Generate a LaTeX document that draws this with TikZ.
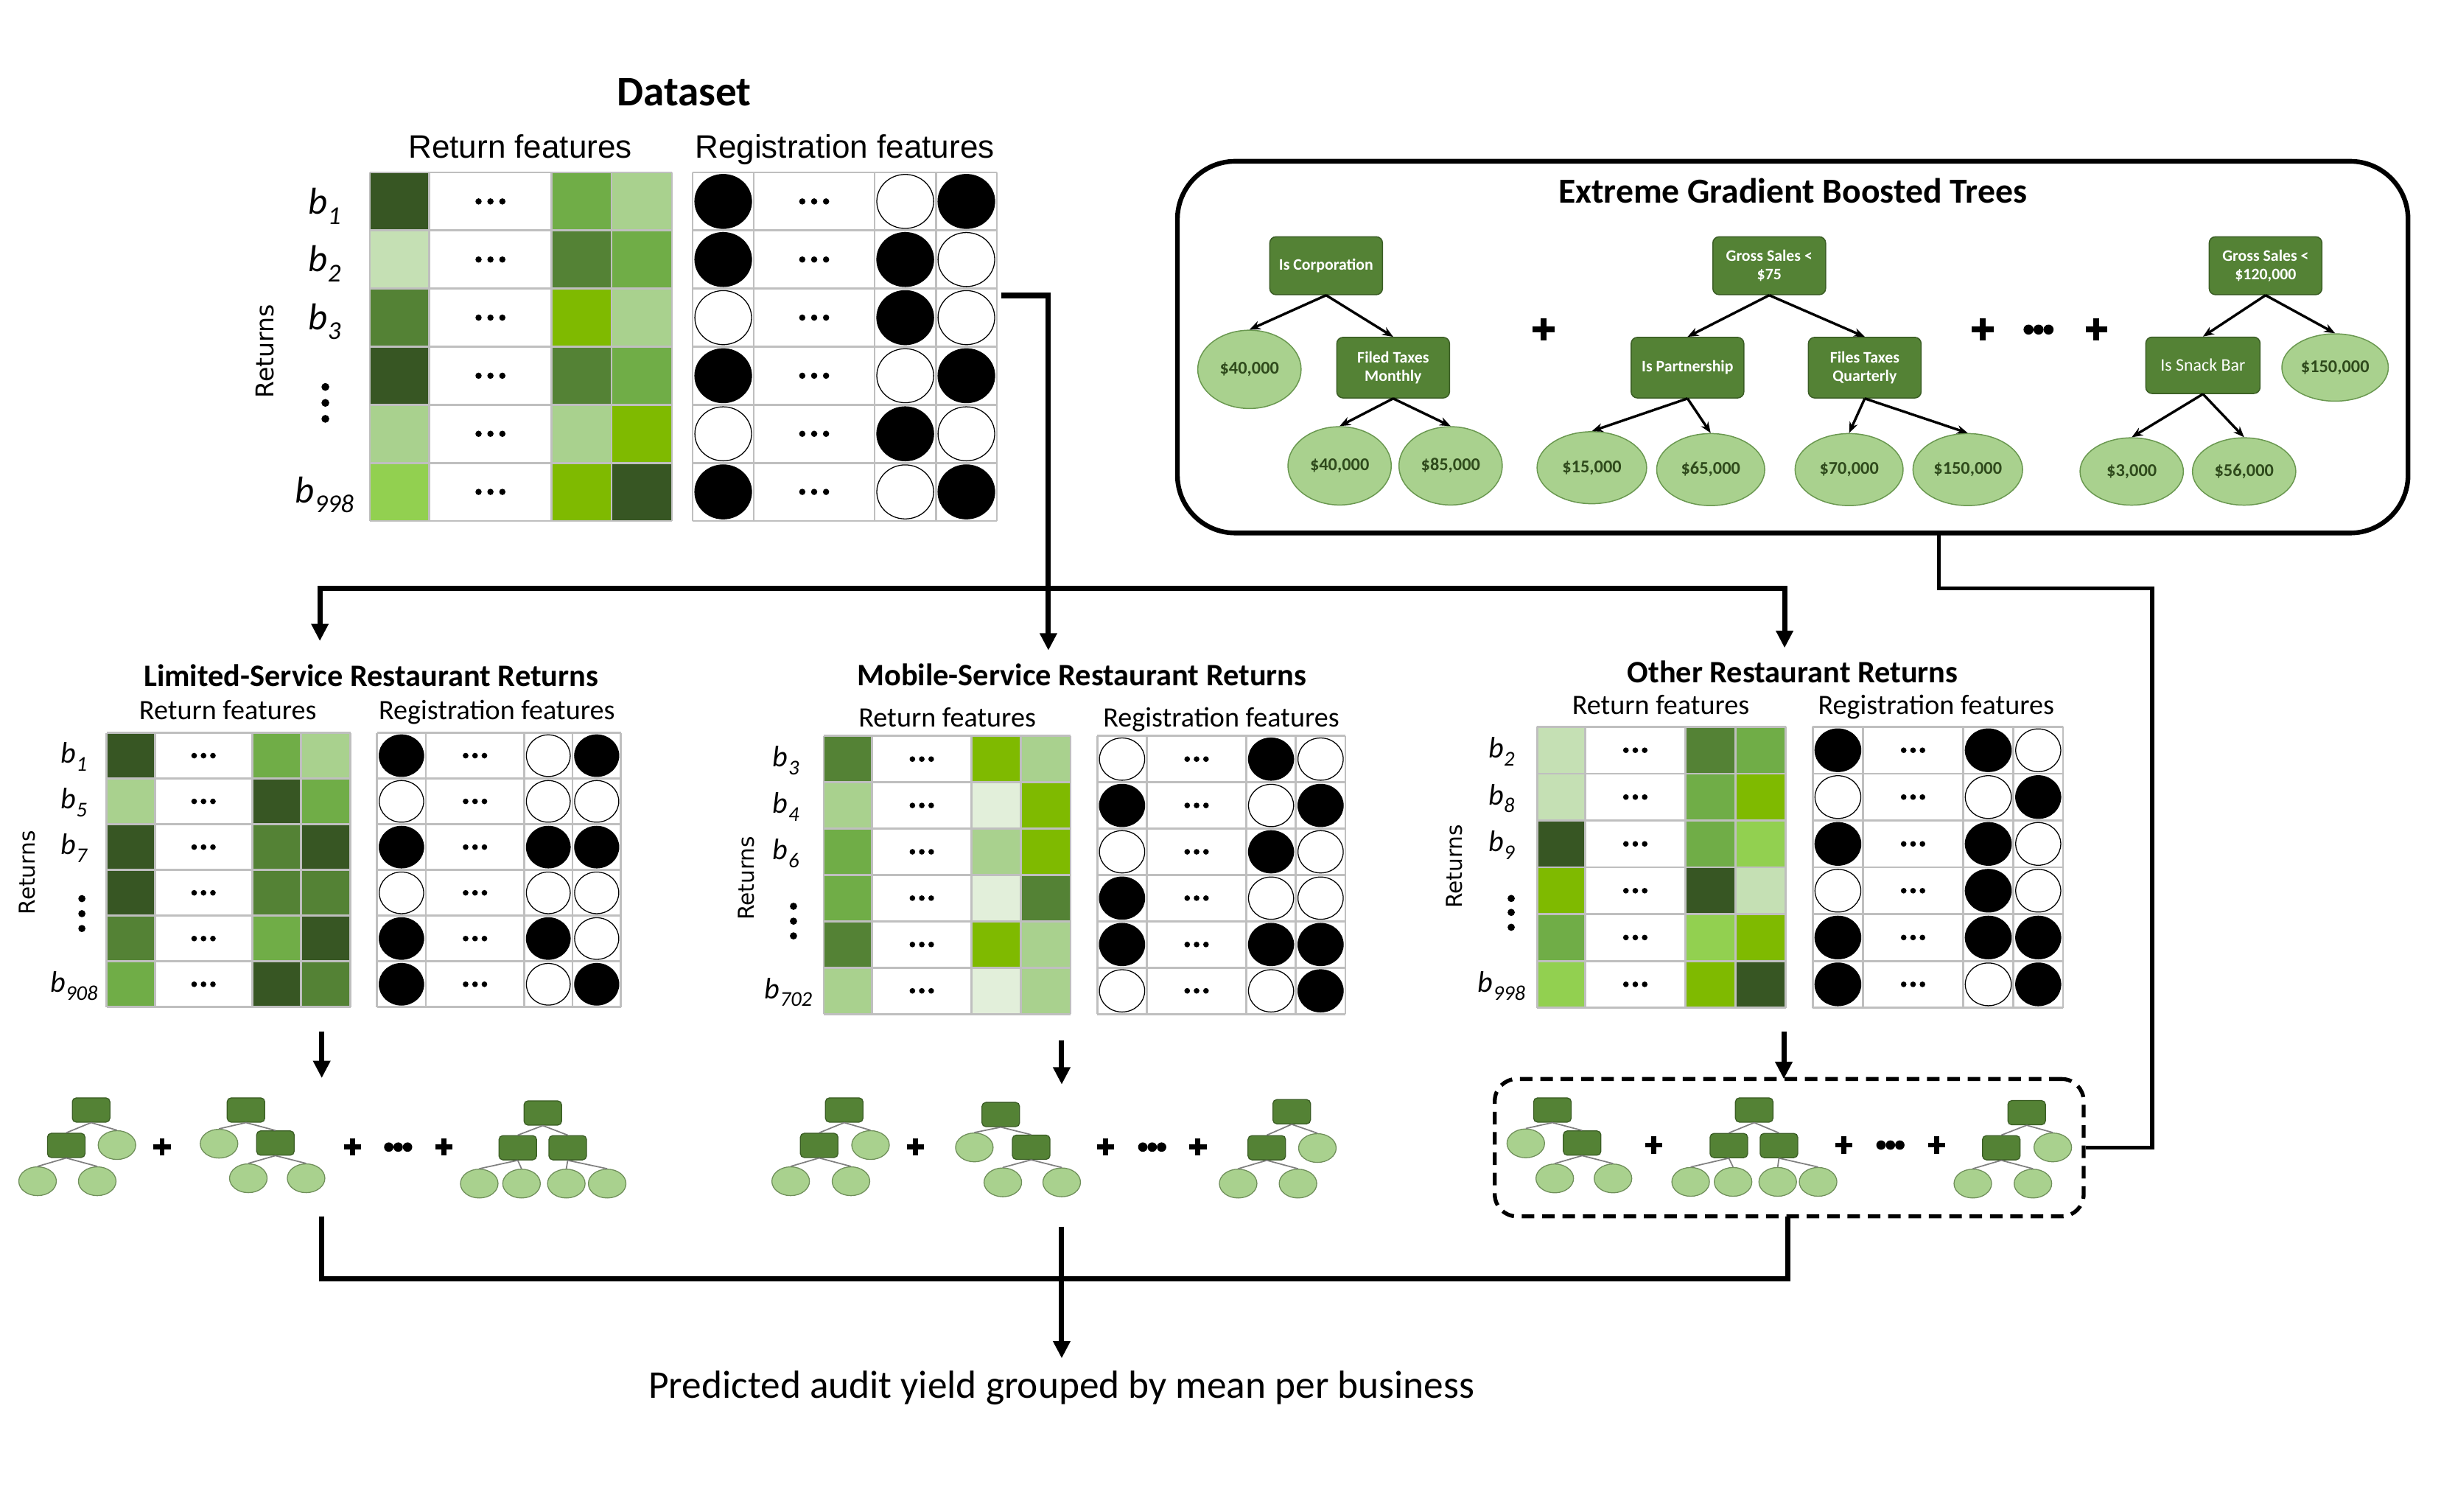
\documentclass[tikz,border=0pt]{standalone}
\usepackage{fontspec}
\setmainfont{Carlito}
\newfontfamily\arialf{Liberation Sans}
\newfontfamily\dejavuf{DejaVu Sans}
\usetikzlibrary{arrows.meta,shapes.geometric,calc}

\definecolor{gA}{HTML}{375623}
\definecolor{gB}{HTML}{548235}
\definecolor{gC}{HTML}{70AD47}
\definecolor{gD}{HTML}{A9D18E}
\definecolor{gE}{HTML}{C5E0B4}
\definecolor{gF}{HTML}{E2EFDA}
\definecolor{gY}{HTML}{7FBA00}
\definecolor{gL}{HTML}{92D050}
\definecolor{gridc}{HTML}{BFBFBF}
\definecolor{gBd}{HTML}{3A5D24}
\definecolor{gleafd}{HTML}{6A9850}
\definecolor{sleafd}{HTML}{6F8F5A}
\definecolor{sgrey}{HTML}{7F7F7F}
\definecolor{leaftext}{HTML}{2F4A1C}

\newcommand\settab[7]{\def\tXa{#1}\def\tXb{#2}\def\tXc{#3}\def\tXd{#4}\def\tXe{#5}\def\tYa{#6}\def\tH{#7}}
\newcommand\cellfill[4]{\fill[fill=#1] (#2,{\tYa+#4*\tH}) rectangle (#3,{\tYa+(#4+1)*\tH});}
\newcommand\celldots[3]{\foreach \k in {-1,0,1} \fill ({(\tXb+\tXc)/2+\k*#2},{\tYa+(#1+0.5)*\tH}) circle[radius=#3bp];}
\newcommand\drawgrid{%
  \foreach \xx in {\tXa,\tXb,\tXc,\tXd,\tXe} \draw[gridline] (\xx,\tYa) -- (\xx,{\tYa+6*\tH});
  \foreach \rr in {0,...,6} \draw[gridline] (\tXa,{\tYa+\rr*\tH}) -- (\tXe,{\tYa+\rr*\tH});}
\newcommand\rettable[3]{%
  \foreach \ca/\cb/\cc [count=\r from 0] in {#1} {
    \cellfill{\ca}{\tXa}{\tXb}{\r}
    \cellfill{\cb}{\tXc}{\tXd}{\r}
    \cellfill{\cc}{\tXd}{\tXe}{\r}
  }
  \drawgrid
  \foreach \r in {0,...,5} {\celldots{\r}{#2}{#3}}}
\newcommand\regtable[3]{%
  \drawgrid
  \foreach \pa/\pb/\pc [count=\r from 0] in {#1} {
    \path[draw=black, line width=0.6bp, fill=\pa] ({(\tXa+\tXb)/2},{\tYa+(\r+0.5)*\tH}) ellipse [x radius={(\tXb-\tXa)/2-1.4}, y radius={\tH/2-1.3}];
    \path[draw=black, line width=0.6bp, fill=\pb] ({(\tXc+\tXd)/2},{\tYa+(\r+0.5)*\tH}) ellipse [x radius={(\tXd-\tXc)/2-1.4}, y radius={\tH/2-1.3}];
    \path[draw=black, line width=0.6bp, fill=\pc] ({(\tXd+\tXe)/2},{\tYa+(\r+0.5)*\tH}) ellipse [x radius={(\tXe-\tXd)/2-1.4}, y radius={\tH/2-1.3}];
    \celldots{\r}{#2}{#3}
  }}
\newcommand\blab[6]{\node[anchor=base, inner sep=0bp] (#1) at (#2,#3) {\fontsize{#5}{#5}\selectfont\itshape b\kern0.01em\raisebox{-0.27em}{\fontsize{#6}{#6}\selectfont #4}};}
\newcommand\rowdots[5]{\foreach \yy in {#2,#3,#4} \fill (#1,\yy) circle[radius=#5bp];}
\newcommand\plussign[4]{\draw[line width=#4bp] ({#1-#3},#2) -- ({#1+#3},#2) (#1,{#2-#3}) -- (#1,{#2+#3});}
\newcommand\tridots[3]{\foreach \k in {-1,0,1} \fill ({#1+\k*2*#3},#2) circle[radius=#3bp];}

\tikzset{
 gridline/.style={draw=gridc, line width=1.3bp},
 bus/.style={line width=3.3bp, draw=black},
 tipA/.style={-{Triangle[width=10.5bp,length=11bp]}},
 xcon/.style={line width=2.6bp, draw=black},
 xbox/.style={rectangle, rounded corners=4bp, fill=gB, draw=gBd, line width=0.7bp, minimum width=72bp, minimum height=37bp, inner sep=1bp, align=center, text=white, font=\fontsize{10.3}{12}\selectfont\bfseries},
 xleaf/.style={ellipse, fill=gD, draw=gleafd, line width=0.7bp, minimum width=67bp, minimum height=46bp, inner sep=0bp, text=leaftext, font=\fontsize{11.5}{12}\selectfont\bfseries},
 xarr/.style={line width=1.6bp, -{Stealth[length=7bp,width=5.5bp]}},
 sbox/.style={rectangle, rounded corners=2.5bp, fill=gB, draw=gBd, line width=0.6bp, minimum width=24bp, minimum height=15.5bp, inner sep=0bp},
 sleaf/.style={ellipse, fill=gD, draw=sleafd, line width=0.6bp, minimum width=24bp, minimum height=18.4bp, inner sep=0bp},
 sline/.style={draw=sgrey, line width=0.8bp},
 ttl/.style={anchor=base, inner sep=0bp, font=\fontsize{20}{23}\selectfont\bfseries},
 subh/.style={anchor=base, inner sep=0bp, font=\fontsize{18}{21}\selectfont},
 retlab/.style={rotate=90, inner sep=0bp, font=\dejavuf\fontsize{14}{16}\selectfont},
}

\begin{document}
\begin{tikzpicture}[x=1bp, y=-1bp]
\useasboundingbox (0,0) rectangle (1568,965.6);
\fill[white] (0,0) rectangle (1568,965.6);

% ================= Dataset =================
\node[anchor=base, inner sep=0bp, font=\fontsize{27}{32}\selectfont\bfseries] (dsT) at (437,67.3) {Dataset};
\node[anchor=base, inner sep=0bp, font=\arialf\fontsize{20.8}{24}\selectfont] (dsRF) at (332.3,101) {Return features};
\node[anchor=base, inner sep=0bp, font=\arialf\fontsize{20.8}{24}\selectfont] (dsGF) at (539.5,101) {Registration features};
\settab{236.2}{274.1}{352.4}{390.6}{429.2}{110.1}{37.1}
\rettable{gA/gC/gD,gE/gB/gC,gB/gY/gD,gA/gB/gC,gD/gD/gY,gL/gY/gA}{7.6}{2}
\settab{442.4}{481.4}{558.6}{597.7}{636.7}{110.1}{37.1}
\regtable{black/white/black,black/black/white,white/black/white,black/white/black,white/black/white,black/white/black}{7.6}{2}
\blab{dsb1}{207.2}{136.6}{1}{24}{16.5}
\blab{dsb2}{207.2}{173.5}{2}{24}{16.5}
\blab{dsb3}{207.2}{210.4}{3}{24}{16.5}
\blab{dsb4}{207.2}{321}{998}{24}{16.5}
\rowdots{207.8}{247.1}{257.3}{267.5}{2.5}
\node[rotate=90, inner sep=0bp, font=\dejavuf\fontsize{15.7}{17}\selectfont] (dsRet) at (169.4,224.3) {Returns};

% ================= XGBoost box =================
\node[draw, line width=3bp, rounded corners=37bp, minimum width=786bp, minimum height=237.4bp, inner sep=0bp] (xgb) at (1145,221.7) {};
\node[anchor=base, inner sep=0bp, font=\fontsize{22.5}{26}\selectfont\bfseries] (xgbT) at (1145,129.8) {Extreme Gradient Boosted Trees};

\node[xbox] (t1r) at (847,169.7) {Is Corporation};
\node[xleaf, minimum height=50bp, minimum width=66bp] (t1a) at (798,235.9) {\$40,000};
\node[xbox, minimum height=38.7bp] (t1b) at (889.8,234.8) {Filed Taxes\\Monthly};
\node[xleaf, minimum height=50bp, minimum width=66bp] (t1c) at (855.6,297.5) {\$40,000};
\node[xleaf, minimum height=50bp, minimum width=66bp] (t1d) at (926.5,297.5) {\$85,000};
\draw[xarr] (t1r.south) -- (t1a.north);
\draw[xarr] (t1r.south) -- (t1b.north);
\draw[xarr] (t1b.south) -- (t1c.north);
\draw[xarr] (t1b.south) -- (t1d.north);

\node[xbox] (t2r) at (1130,169.7) {Gross Sales <\\\$75};
\node[xbox, minimum height=38.7bp] (t2a) at (1077.8,234.8) {Is Partnership};
\node[xbox, minimum height=38.7bp] (t2b) at (1191,234.8) {Files Taxes\\Quarterly};
\node[xleaf, minimum width=70bp] (t2c) at (1016.7,298.7) {\$15,000};
\node[xleaf, minimum width=69bp] (t2d) at (1092.6,299.9) {\$65,000};
\node[xleaf, minimum width=69bp] (t2e) at (1181,299.9) {\$70,000};
\node[xleaf, minimum width=70bp] (t2f) at (1256.8,299.9) {\$150,000};
\draw[xarr] (t2r.south) -- (t2a.north);
\draw[xarr] (t2r.south) -- (t2b.north);
\draw[xarr] (t2a.south) -- (t2c.north);
\draw[xarr] (t2a.south) -- (t2d.north);
\draw[xarr] (t2b.south) -- (t2e.north);
\draw[xarr] (t2b.south) -- (t2f.north);

\node[xbox] (t3r) at (1447,169.7) {Gross Sales <\\\$120,000};
\node[xbox, minimum height=36bp, minimum width=73bp, font=\fontsize{11.3}{12}\selectfont] (t3a) at (1407,233.3) {Is Snack Bar};
\node[xleaf, minimum width=68bp, minimum height=43bp] (t3b) at (1491.4,234.7) {\$150,000};
\node[xleaf, minimum width=66bp, minimum height=43bp] (t3c) at (1361.5,301.1) {\$3,000};
\node[xleaf, minimum width=66bp, minimum height=43bp] (t3d) at (1433.3,301.1) {\$56,000};
\draw[xarr] (t3r.south) -- (t3a.north);
\draw[xarr] (t3r.south) -- (t3b.north);
\draw[xarr] (t3a.south) -- (t3c.north);
\draw[xarr] (t3a.south) -- (t3d.north);

\plussign{985.8}{210.5}{7}{3.8}
\plussign{1266.5}{210.5}{7}{3.8}
\tridots{1302}{210.5}{3.2}
\plussign{1339}{210.5}{7}{3.8}

% ================= Connectors top =================
\coordinate (dsOut) at (639.5,188.7);
\coordinate (mobIn) at (669.6,415.4);
\coordinate (busL) at (204.3,375.9);
\coordinate (busR) at (1139.8,375.9);
\coordinate (limIn) at (204.3,409.4);
\coordinate (othIn) at (1139.8,413.8);
\draw[bus,tipA] (dsOut) -| (mobIn);
\draw[bus,tipA] (busR) -- (busL) -- (limIn);
\draw[bus,tipA] (busL) -- (busR) -- (othIn);

\coordinate (xgbOut) at (1238.4,340.4);
\coordinate (xk) at (1374.6,375.7);

% ================= Limited-service =================
\node[ttl] (limT) at (237,438.4) {Limited-Service Restaurant Returns};
\node[subh] (limRF) at (145.5,459.6) {Return features};
\node[subh] (limGF) at (317.3,459.6) {Registration features};
\settab{68.1}{99}{161}{192.2}{223.9}{468}{29.2}
\rettable{gA/gC/gD,gD/gA/gC,gA/gB/gA,gA/gB/gB,gB/gC/gA,gC/gA/gB}{6}{1.8}
\settab{240.8}{272}{334.8}{365.6}{396.6}{468}{29.2}
\regtable{black/white/black,white/white/white,black/black/black,white/white/white,black/black/white,black/white/black}{6}{1.8}
\blab{lib1}{47.2}{487.3}{1}{19}{13.5}
\blab{lib2}{47.2}{516.5}{5}{19}{13.5}
\blab{lib3}{47.2}{545.7}{7}{19}{13.5}
\blab{lib4}{47.2}{633.5}{908}{19}{13.5}
\rowdots{52.3}{573.9}{583.5}{593}{2.3}
\node[retlab] (limRet) at (17.2,557.3) {Returns};

% ================= Mobile-service =================
\node[ttl] (mobT) at (691,438) {Mobile-Service Restaurant Returns};
\node[subh] (mobRF) at (605,464) {Return features};
\node[subh] (mobGF) at (780,464) {Registration features};
\settab{526.1}{557.1}{620.4}{652.1}{683.8}{470}{29.6}
\rettable{gB/gY/gD,gD/gF/gY,gC/gD/gY,gC/gF/gB,gB/gY/gD,gD/gF/gD}{6}{1.8}
\settab{700.8}{732.5}{796}{827.6}{859.3}{470}{29.6}
\regtable{white/black/white,black/white/black,white/black/white,black/white/white,black/black/black,white/white/black}{6}{1.8}
\blab{mob1}{502}{489.6}{3}{19}{13.5}
\blab{mob2}{502}{519.2}{4}{19}{13.5}
\blab{mob3}{502}{548.8}{6}{19}{13.5}
\blab{mob4}{503.5}{637.7}{702}{19}{13.5}
\rowdots{506.8}{578.8}{588.3}{597.7}{2.3}
\node[retlab] (mobRet) at (476.5,560.8) {Returns};

% ================= Other =================
\node[ttl] (othT) at (1145,436.1) {Other Restaurant Returns};
\node[subh] (othRF) at (1060.7,456.2) {Return features};
\node[subh] (othGF) at (1236.6,456.2) {Registration features};
\settab{981.7}{1012.5}{1076.4}{1108.3}{1140.6}{464.2}{29.9}
\rettable{gE/gB/gC,gE/gC/gY,gA/gC/gL,gY/gA/gE,gC/gL/gY,gL/gY/gA}{6}{1.8}
\settab{1157.8}{1189.9}{1253.8}{1286}{1317.6}{464.2}{29.9}
\regtable{black/black/white,white/white/black,black/black/white,white/black/white,black/black/black,black/white/black}{6}{1.8}
\blab{otb1}{959}{484}{2}{19}{13.5}
\blab{otb2}{959}{513.9}{8}{19}{13.5}
\blab{otb3}{959}{543.8}{9}{19}{13.5}
\blab{otb4}{959}{633.5}{998}{19}{13.5}
\rowdots{965.2}{573.8}{582.7}{592.2}{2.3}
\node[retlab] (othRet) at (928.9,553.4) {Returns};

% ================= arrows under tables =================
\coordinate (limA) at (205.5,659);
\coordinate (limAt) at (205.5,688.5);
\coordinate (mobA) at (678.1,664.3);
\coordinate (mobAt) at (678.1,692.6);
\coordinate (othA) at (1139.3,659);
\coordinate (othAt) at (1139.3,689.1);
\draw[bus,tipA] (limA) -- (limAt);
\draw[bus,tipA] (mobA) -- (mobAt);
\draw[bus,tipA] (othA) -- (othAt);

% ================= small trees: left =================
\node[sbox] (la0) at (58.2,708.9) {};
\node[sbox] (la1) at (42.3,731.5) {};
\node[sleaf] (la2) at (74.7,731.3) {};
\node[sleaf] (la3) at (24,754.4) {};
\node[sleaf] (la4) at (62.1,754.4) {};
\draw[sline] (la0.south) -- (la1.north) (la0.south) -- (la2.north) (la1.south) -- (la3.north) (la1.south) -- (la4.north);
\plussign{103.5}{732.6}{5.5}{3.2}
\node[sbox] (lb0) at (157.1,708.9) {};
\node[sleaf] (lb1) at (139.9,730.4) {};
\node[sbox] (lb2) at (175.9,730) {};
\node[sleaf] (lb3) at (158.6,752.5) {};
\node[sleaf] (lb4) at (195.5,752.5) {};
\draw[sline] (lb0.south) -- (lb1.north) (lb0.south) -- (lb2.north) (lb2.south) -- (lb3.north) (lb2.south) -- (lb4.north);
\plussign{225.1}{732.6}{5.5}{3.2}
\tridots{254.3}{732.6}{3}
\plussign{283.6}{732.6}{5.5}{3.2}
\node[sbox] (lc0) at (346.7,710.8) {};
\node[sbox] (lc1) at (330.7,733) {};
\node[sbox] (lc2) at (362.6,733) {};
\node[sleaf] (lc3) at (306.1,755.9) {};
\node[sleaf] (lc4) at (333.1,755.9) {};
\node[sleaf] (lc5) at (361.7,755.9) {};
\node[sleaf] (lc6) at (387.8,755.9) {};
\draw[sline] (lc0.south) -- (lc1.north) (lc0.south) -- (lc2.north) (lc1.south) -- (lc3.north) (lc1.south) -- (lc4.north) (lc2.south) -- (lc5.north) (lc2.south) -- (lc6.north);

% ================= small trees: middle =================
\node[sbox] (ma0) at (539.2,708.9) {};
\node[sbox] (ma1) at (523.2,731.5) {};
\node[sleaf] (ma2) at (556,731.3) {};
\node[sleaf] (ma3) at (505,754.4) {};
\node[sleaf] (ma4) at (543.5,754.4) {};
\draw[sline] (ma0.south) -- (ma1.north) (ma0.south) -- (ma2.north) (ma1.south) -- (ma3.north) (ma1.south) -- (ma4.north);
\plussign{584.6}{732.6}{5.5}{3.2}
\node[sbox] (mb0) at (639.2,711.8) {};
\node[sleaf] (mb1) at (622.3,732.8) {};
\node[sbox] (mb2) at (658.6,732.7) {};
\node[sleaf] (mb3) at (640.5,755.1) {};
\node[sleaf] (mb4) at (678.1,755.1) {};
\draw[sline] (mb0.south) -- (mb1.north) (mb0.south) -- (mb2.north) (mb2.south) -- (mb3.north) (mb2.south) -- (mb4.north);
\plussign{706.2}{732.6}{5.5}{3.2}
\tridots{735.9}{732.6}{3}
\plussign{765.1}{732.6}{5.5}{3.2}
\node[sbox] (mc0) at (825,710) {};
\node[sbox] (mc1) at (809.1,733) {};
\node[sleaf] (mc2) at (841.4,733.2) {};
\node[sleaf] (mc3) at (790.8,755.9) {};
\node[sleaf] (mc4) at (829,755.9) {};
\draw[sline] (mc0.south) -- (mc1.north) (mc0.south) -- (mc2.north) (mc1.south) -- (mc3.north) (mc1.south) -- (mc4.north);

% ================= small trees: right (ensemble box) =================
\node[draw, line width=2.5bp, dash pattern=on 8bp off 5bp, rounded corners=14bp, minimum width=376.1bp, minimum height=87.7bp, inner sep=0bp] (ens) at (1142.75,732.95) {};
\node[sbox] (ra0) at (991.5,708.9) {};
\node[sleaf] (ra1) at (974.5,730.2) {};
\node[sbox] (ra2) at (1010.5,730) {};
\node[sleaf] (ra3) at (993,752.6) {};
\node[sleaf] (ra4) at (1030.2,752.6) {};
\draw[sline] (ra0.south) -- (ra1.north) (ra0.south) -- (ra2.north) (ra2.south) -- (ra3.north) (ra2.south) -- (ra4.north);
\plussign{1056.2}{731.3}{5.5}{3.2}
\node[sbox] (rb0) at (1120.4,708.9) {};
\node[sbox] (rb1) at (1104.2,731.6) {};
\node[sbox] (rb2) at (1136.2,731.6) {};
\node[sleaf] (rb3) at (1079.8,754.8) {};
\node[sleaf] (rb4) at (1106.9,754.8) {};
\node[sleaf] (rb5) at (1135.4,754.8) {};
\node[sleaf] (rb6) at (1161.2,754.8) {};
\draw[sline] (rb0.south) -- (rb1.north) (rb0.south) -- (rb2.north) (rb1.south) -- (rb3.north) (rb1.south) -- (rb4.north) (rb2.south) -- (rb5.north) (rb2.south) -- (rb6.north);
\plussign{1177.7}{731.3}{5.5}{3.2}
\tridots{1207.4}{731.3}{3}
\plussign{1236.8}{731.3}{5.5}{3.2}
\node[sbox] (rc0) at (1294.4,710.6) {};
\node[sbox] (rc1) at (1278.2,733) {};
\node[sleaf] (rc2) at (1311.1,732.8) {};
\node[sleaf] (rc3) at (1260,755.9) {};
\node[sleaf] (rc4) at (1298.4,755.9) {};
\draw[sline] (rc0.south) -- (rc1.north) (rc0.south) -- (rc2.north) (rc1.south) -- (rc3.north) (rc1.south) -- (rc4.north);

% XGB connector to ensemble
\draw[xcon] (xgbOut) |- (xk) |- (ens.east);

% ================= bottom merge =================
\coordinate (limBot) at (205.5,776.8);
\coordinate (jL) at (205.5,816.5);
\coordinate (jR) at (1141.7,816.5);
\coordinate (othBot) at (1141.7,776.8);
\coordinate (mobBot) at (678.1,783.5);
\coordinate (predIn) at (678.1,867.5);
\draw[bus] (limBot) -- (jL) -- (jR) -- (othBot);
\draw[bus,tipA] (mobBot) -- (predIn);
\node[anchor=base, inner sep=0bp, font=\fontsize{25.2}{29}\selectfont] (pred) at (678,893) {Predicted audit yield grouped by mean per business};
\end{tikzpicture}
\end{document}
